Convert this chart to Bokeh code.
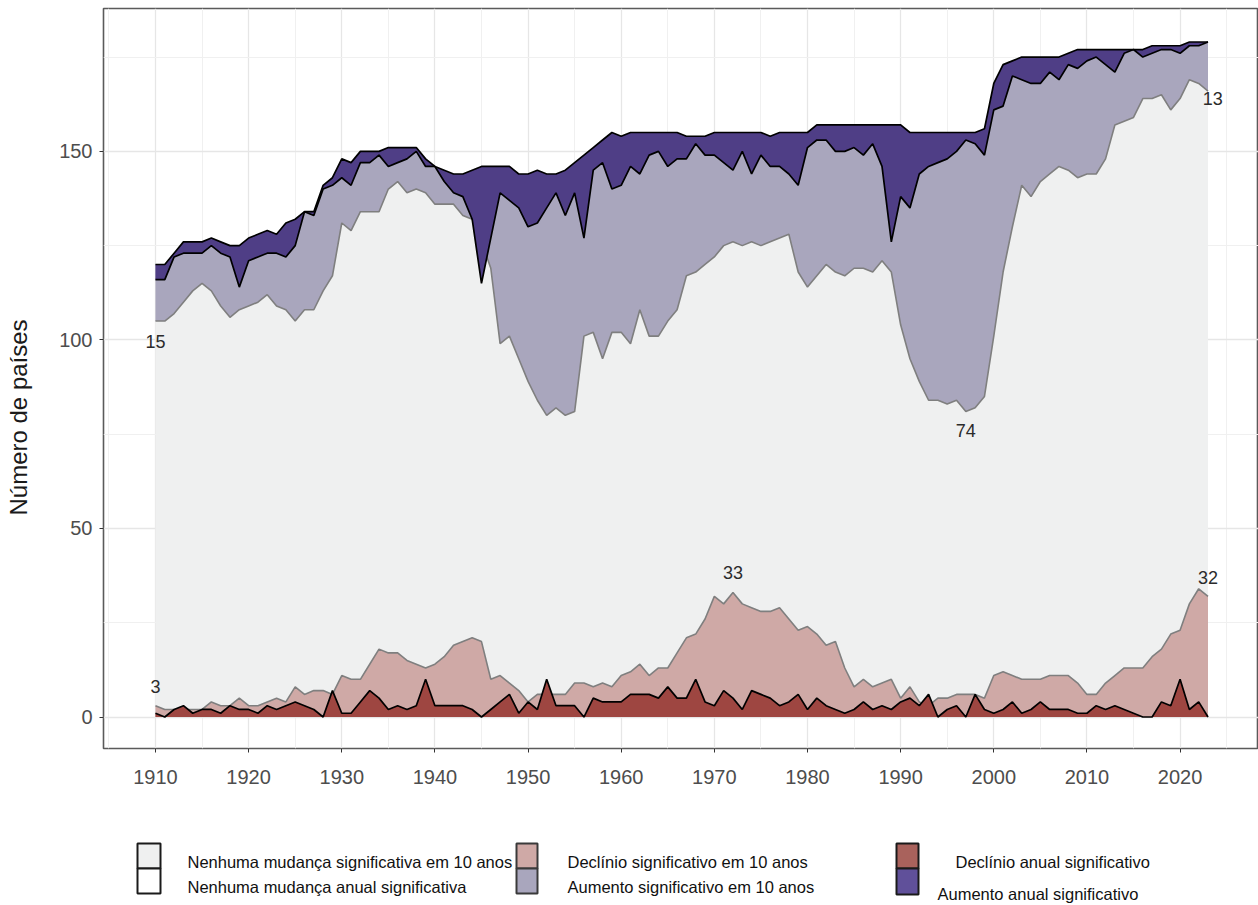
import math
from bokeh.plotting import figure
from bokeh.models import Range1d, FixedTicker, Title, ColumnDataSource
from bokeh.layouts import column
from bokeh.embed import file_html
from bokeh.resources import INLINE
from bokeh.core.properties import value

# ---------------- data (number of countries per year) ----------------
years = list(range(1910, 2024))

# total number of countries (top of the stack)
total = [
    120, 120, 123, 126, 126, 126, 127, 126, 125, 125,
    127, 128, 129, 128, 131, 132, 134, 134, 141, 143,
    148, 147, 150, 150, 150, 151, 151, 151, 151, 148,
    146, 145, 144, 144, 145, 146, 146, 146, 146, 144,
    144, 145, 144, 144, 145, 147, 149, 151, 153, 155,
    154, 155, 155, 155, 155, 155, 155, 154, 154, 154,
    155, 155, 155, 155, 155, 155, 154, 155, 155, 155,
    155, 157, 157, 157, 157, 157, 157, 157, 157, 157,
    157, 155, 155, 155, 155, 155, 155, 155, 155, 156,
    168, 173, 174, 175, 175, 175, 175, 175, 176, 177,
    177, 177, 177, 177, 177, 177, 177, 178, 178, 178,
    178, 179, 179, 179,
]

# lower edge of "Aumento anual significativo" (total minus annual increases)
annual_increase_base = [
    116, 116, 122, 123, 123, 123, 125, 123, 122, 114,
    121, 122, 123, 123, 122, 125, 134, 133, 140, 141,
    143, 141, 147, 147, 149, 146, 147, 148, 150, 146,
    146, 142, 139, 138, 132, 115, 127, 139, 137, 135,
    130, 131, 135, 139, 133, 139, 127, 145, 147, 140,
    141, 146, 144, 149, 150, 146, 148, 148, 152, 149,
    149, 147, 145, 150, 144, 149, 146, 146, 144, 141,
    151, 153, 153, 150, 150, 151, 149, 152, 146, 126,
    138, 135, 144, 146, 147, 148, 150, 153, 152, 149,
    161, 162, 170, 169, 168, 168, 171, 169, 173, 172,
    174, 175, 173, 171, 176, 177, 175, 176, 177, 177,
    176, 178, 178, 179,
]

# upper edge of "Nenhuma mudança significativa em 10 anos"
no_change_10y_top = [
    105, 105, 107, 110, 113, 115, 113, 109, 106, 108,
    109, 110, 112, 109, 108, 105, 108, 108, 113, 117,
    131, 129, 134, 134, 134, 140, 142, 139, 140, 139,
    136, 136, 136, 133, 132, 126, 119, 99, 101, 95,
    89, 84, 80, 82, 80, 81, 101, 102, 95, 102,
    102, 99, 108, 101, 101, 105, 108, 117, 118, 120,
    122, 125, 126, 125, 126, 125, 126, 127, 128, 118,
    114, 117, 120, 118, 117, 119, 119, 118, 121, 118,
    104, 95, 89, 84, 84, 83, 84, 81, 82, 85,
    101, 118, 130, 141, 138, 142, 144, 146, 145, 143,
    144, 144, 148, 157, 158, 159, 164, 164, 165, 161,
    164, 169, 168, 166,
]

# "Declínio significativo em 10 anos"
decline_10y = [
    3, 2, 2, 2, 2, 2, 4, 3, 3, 5,
    3, 3, 4, 5, 4, 8, 6, 7, 7, 6,
    11, 10, 10, 14, 18, 17, 17, 15, 14, 13,
    14, 16, 19, 20, 21, 20, 10, 11, 9, 7,
    4, 6, 6, 6, 6, 9, 9, 8, 9, 8,
    11, 12, 14, 11, 13, 13, 17, 21, 22, 26,
    32, 30, 33, 30, 29, 28, 28, 29, 26, 23,
    24, 22, 19, 20, 13, 8, 10, 8, 9, 10,
    5, 8, 4, 3, 5, 5, 6, 6, 6, 5,
    11, 12, 11, 10, 10, 10, 11, 11, 11, 9,
    6, 6, 9, 11, 13, 13, 13, 16, 18, 22,
    23, 30, 34, 32,
]

# "Declínio anual significativo"
decline_annual = [
    1, 0, 2, 3, 1, 2, 2, 1, 3, 2,
    2, 1, 3, 2, 3, 4, 3, 2, 0, 7,
    1, 1, 4, 7, 5, 2, 3, 2, 3, 10,
    3, 3, 3, 3, 2, 0, 2, 4, 6, 1,
    4, 2, 10, 3, 3, 3, 0, 5, 4, 4,
    4, 6, 6, 6, 5, 8, 5, 5, 10, 4,
    3, 7, 5, 2, 7, 6, 5, 3, 4, 6,
    2, 5, 3, 2, 1, 2, 4, 2, 3, 2,
    4, 5, 3, 6, 0, 2, 3, 0, 6, 2,
    1, 2, 4, 1, 2, 4, 2, 2, 2, 1,
    1, 3, 2, 3, 2, 1, 0, 0, 4, 3,
    10, 2, 4, 0,
]

x_ticks = [1910, 1920, 1930, 1940, 1950, 1960, 1970, 1980, 1990, 2000, 2010, 2020]
x_minor = [1905, 1915, 1925, 1935, 1945, 1955, 1965, 1975, 1985, 1995, 2005, 2015, 2025]
y_ticks = [0, 50, 100, 150]
y_minor = [25, 75, 125, 175]

legend_labels = [
    "Nenhuma mudança significativa em 10 anos",
    "Nenhuma mudança anual significativa",
    "Declínio significativo em 10 anos",
    "Aumento significativo em 10 anos",
    "Declínio anual significativo",
    "Aumento anual significativo",
]

for arr in (total, annual_increase_base, no_change_10y_top, decline_10y, decline_annual):
    assert len(arr) == len(years), len(arr)

# ---------------- styling ----------------
FONT = "Liberation Sans"
C_LIGHT = "#EFF0F0"
C_LAV = "#A9A6BD"
C_PINK = "#CFA9A6"
C_DRED = "#9E4641"
C_DPURP = "#4F3E86"
C_LEG_DRED = "#A9625C"
C_LEG_DPURP = "#60509A"
C_EDGE10 = "#7F7F7F"

W = 1258
MAIN_H = 818
LEG_H = 85
LEFT = 103

src = ColumnDataSource(dict(
    year=years, total=total, inc_base=annual_increase_base,
    n10=no_change_10y_top, d10=decline_10y, dA=decline_annual,
))

p = figure(width=W, height=MAIN_H, output_backend="svg", toolbar_location=None,
           x_range=Range1d(1904.42, 2028.42), y_range=Range1d(-8.35, 187.88),
           min_border_left=LEFT, min_border_right=0, min_border_top=8,
           min_border_bottom=70)
p.background_fill_color = "white"
p.border_fill_color = "white"
p.outline_line_color = "#5A5A5A"
p.outline_line_width = 1.6

xt = FixedTicker(ticks=x_ticks, minor_ticks=x_minor)
yt = FixedTicker(ticks=y_ticks, minor_ticks=y_minor)
p.xaxis.ticker = xt
p.yaxis.ticker = yt
p.xgrid.ticker = xt
p.ygrid.ticker = yt
for g in (p.xgrid, p.ygrid):
    g.grid_line_color = "#E6E6E6"
    g.grid_line_width = 1.3
    g.minor_grid_line_color = "#F0F0F0"
    g.minor_grid_line_width = 1.0

for ax in (p.xaxis, p.yaxis):
    ax.axis_line_color = None
    ax.major_tick_line_color = "#333333"
    ax.major_tick_out = 4
    ax.major_tick_in = 0
    ax.minor_tick_line_color = None
    ax.major_label_text_font = FONT
    ax.major_label_text_font_size = "20px"
    ax.major_label_text_color = "#4D4D4D"
p.xaxis.major_label_standoff = 17
p.yaxis.major_label_standoff = 7
# blank axis label used only as horizontal spacing before the title
p.yaxis.axis_label = " "
p.yaxis.axis_label_text_font_size = "10px"
p.yaxis.axis_label_standoff = 11

# 10-year change layers
p.varea(x="year", y1=0, y2="d10", source=src, fill_color=C_PINK)
p.varea(x="year", y1="d10", y2="n10", source=src, fill_color=C_LIGHT)
p.varea(x="year", y1="n10", y2="total", source=src, fill_color=C_LAV)
p.line(x="year", y="d10", source=src, line_color=C_EDGE10, line_width=1.6)
p.line(x="year", y="n10", source=src, line_color=C_EDGE10, line_width=1.6)

# annual change layers
p.varea(x="year", y1=0, y2="dA", source=src, fill_color=C_DRED)
p.varea(x="year", y1="inc_base", y2="total", source=src, fill_color=C_DPURP)
p.line(x="year", y="dA", source=src, line_color="black", line_width=1.7)
p.line(x="year", y="inc_base", source=src, line_color="black", line_width=1.7)
p.line(x="year", y="total", source=src, line_color="black", line_width=1.7)

# value labels derived from the data
i97 = years.index(1997)
i72 = years.index(1972)
lab = ColumnDataSource(dict(
    x=[years[0], years[i97], years[-1] + 0.5, years[0], years[i72], years[-1]],
    y=[no_change_10y_top[0] - 5.3, no_change_10y_top[i97] - 5.0,
       no_change_10y_top[-1] - 2.0, decline_10y[0] + 5.0,
       decline_10y[i72] + 5.2, decline_10y[-1] + 5.0],
    t=[str(total[0] - no_change_10y_top[0]),
       str(total[i97] - no_change_10y_top[i97]),
       str(total[-1] - no_change_10y_top[-1]),
       str(decline_10y[0]), str(decline_10y[i72]), str(decline_10y[-1])],
))
p.text(x="x", y="y", text="t", source=lab, text_font=value(FONT),
       text_font_size=value("18px"), text_align="center",
       text_baseline="middle", text_color="#2B2B2B")

ytitle = Title(text="Número de países", align="left", offset=233,
               text_font=FONT, text_font_size="24px", text_color="#1A1A1A",
               text_font_style="normal", standoff=0)
p.add_layout(ytitle, "left")

# ---------------- legend (separate strip below, x = page pixels) ----------------
leg = figure(width=W, height=LEG_H, output_backend="svg", toolbar_location=None,
             x_range=Range1d(LEFT, W), y_range=Range1d(LEG_H, 0),
             x_axis_location=None, y_axis_location=None,
             min_border_left=LEFT, min_border_right=0, min_border_top=0,
             min_border_bottom=0, outline_line_color=None)
leg.grid.visible = False
leg.background_fill_color = "white"
leg.border_fill_color = "white"

sw = ColumnDataSource(dict(
    left=[137, 137, 516, 516, 896, 896],
    right=[160, 160, 537, 537, 918, 918],
    top=[25, 50, 25, 50, 25, 50],
    bottom=[50, 75, 50, 75, 50, 76],
    fill=[C_LIGHT, "white", C_PINK, C_LAV, C_LEG_DRED, C_LEG_DPURP],
    edge=["#1A1A1A", "#1A1A1A", "#3A3A3A", "#3A3A3A", "#1A1A1A", "#1A1A1A"],
))
leg.quad(left="left", right="right", top="top", bottom="bottom", source=sw,
         fill_color="fill", line_color="edge", line_width=2)

lt = ColumnDataSource(dict(
    x=[187, 187, 567, 567, 955, 937],
    y=[43, 68, 43, 68, 43, 75],
    t=legend_labels,
))
leg.text(x="x", y="y", text="t", source=lt, text_font=value(FONT),
         text_font_size=value("16.5px"), text_align="left",
         text_baseline="middle", text_color="#111111")

layout = column(p, leg, spacing=0)
open("out.html", "w").write(file_html(layout, INLINE))
